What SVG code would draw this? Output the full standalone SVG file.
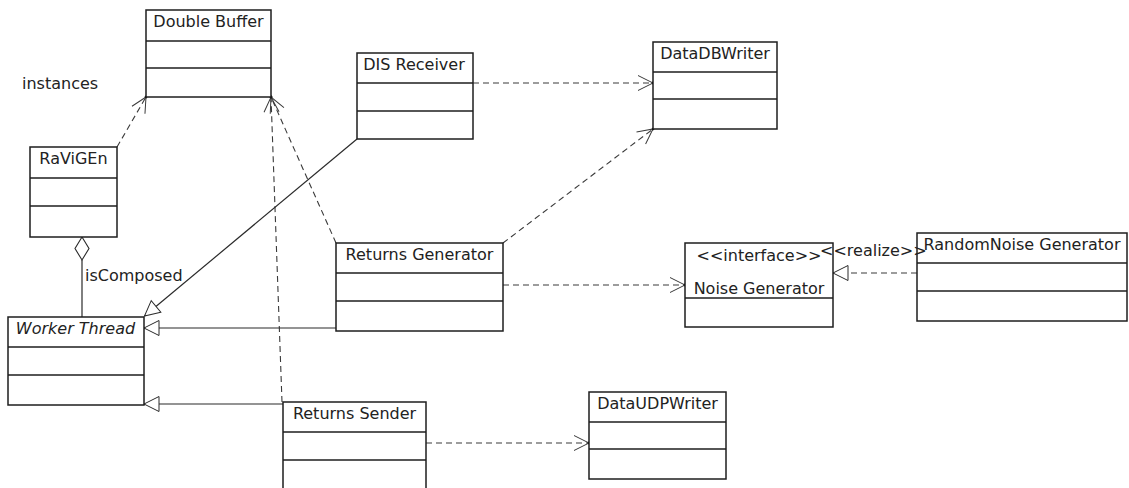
<svg xmlns="http://www.w3.org/2000/svg" width="1129" height="488" viewBox="0 0 1129 488">
  <style>
    .box { fill: #ffffff; stroke: #1e1e1e; stroke-width: 1.5; }
    .div { stroke: #1e1e1e; stroke-width: 1.4; }
    .name { font-family: "DejaVu Sans", "Liberation Sans", sans-serif; font-size: 16px; fill: #222222; text-anchor: middle; }
    .label { font-family: "DejaVu Sans", "Liberation Sans", sans-serif; font-size: 16px; fill: #222222; }
    .dep { fill: none; stroke: #3a3a3a; stroke-width: 1.1; stroke-dasharray: 6 4; }
    .gen { fill: none; stroke: #2a2a2a; stroke-width: 1.2; }
  </style>
  <defs>
    <!-- open arrowhead for dependencies -->
    <marker id="open" viewBox="0 0 18 18" refX="16" refY="9" markerWidth="18" markerHeight="18" markerUnits="userSpaceOnUse" orient="auto">
      <path d="M1,1.5 L16,9 L1,16.5" fill="none" stroke="#3a3a3a" stroke-width="1" stroke-dasharray="none"/>
      <circle cx="16" cy="9" r="1.4" fill="#111"/>
    </marker>
    <!-- hollow triangle for generalization / realization -->
    <marker id="tri" viewBox="0 0 18 18" refX="16.5" refY="9" markerWidth="18" markerHeight="18" markerUnits="userSpaceOnUse" orient="auto">
      <path d="M1.5,1.5 L16.5,9 L1.5,16.5 Z" fill="#ffffff" stroke="#2a2a2a" stroke-width="1" stroke-dasharray="none"/>
    </marker>
  </defs>

  <g id="connectors">
    <path class="dep" d="M117,147 L146,97" marker-end="url(#open)"/>
    <path class="dep" d="M336,243 L271,97" marker-end="url(#open)"/>
    <path class="dep" d="M282,402 L271,97" marker-end="url(#open)"/>
    <path class="dep" d="M473,83 L653,83" marker-end="url(#open)"/>
    <path class="dep" d="M503,243 L653,129" marker-end="url(#open)"/>
    <path class="dep" d="M503,285 L685,285" marker-end="url(#open)"/>
    <path class="dep" d="M426,443 L589,443" marker-end="url(#open)"/>
    <path class="dep" d="M917,273 L833,273" marker-end="url(#tri)"/>
    <path class="gen" stroke-width="0.9" d="M357,139 L144.5,316" marker-end="url(#tri)"/>
    <path class="gen" d="M336,328 L144,328" marker-end="url(#tri)"/>
    <path class="gen" d="M283,404 L144,404" marker-end="url(#tri)"/>
    <!-- aggregation RaViGEn <>— Worker Thread -->
    <path class="gen" d="M82,260 L82,317"/>
    <path d="M82,237 L89,248.5 L82,260 L75,248.5 Z" fill="#ffffff" stroke="#2a2a2a" stroke-width="1.1"/>
  </g>

  <g id="double-buffer">
    <rect class="box" x="146" y="10" width="125" height="87"/>
    <line class="div" x1="146" y1="41" x2="271" y2="41"/>
    <line class="div" x1="146" y1="68" x2="271" y2="68"/>
    <text class="name" x="208.5" y="27">Double Buffer</text>
  </g>

  <g id="ravigen">
    <rect class="box" x="30" y="147" width="87" height="90"/>
    <line class="div" x1="30" y1="178" x2="117" y2="178"/>
    <line class="div" x1="30" y1="206" x2="117" y2="206"/>
    <text class="name" x="73.5" y="164">RaViGEn</text>
  </g>

  <g id="worker-thread">
    <rect class="box" x="8" y="317" width="136" height="88"/>
    <line class="div" x1="8" y1="347" x2="144" y2="347"/>
    <line class="div" x1="8" y1="375" x2="144" y2="375"/>
    <text class="name" x="75.5" y="333.5" font-style="italic">Worker Thread</text>
  </g>

  <g id="dis-receiver">
    <rect class="box" x="357" y="53" width="116" height="86"/>
    <line class="div" x1="357" y1="83" x2="473" y2="83"/>
    <line class="div" x1="357" y1="111" x2="473" y2="111"/>
    <text class="name" x="414" y="70">DIS Receiver</text>
  </g>

  <g id="data-db-writer">
    <rect class="box" x="653" y="42" width="124" height="87"/>
    <line class="div" x1="653" y1="72" x2="777" y2="72"/>
    <line class="div" x1="653" y1="99" x2="777" y2="99"/>
    <text class="name" x="715" y="58.5">DataDBWriter</text>
  </g>

  <g id="returns-generator">
    <rect class="box" x="336" y="243" width="167" height="88"/>
    <line class="div" x1="336" y1="273" x2="503" y2="273"/>
    <line class="div" x1="336" y1="301" x2="503" y2="301"/>
    <text class="name" x="419.5" y="260">Returns Generator</text>
  </g>

  <g id="noise-generator">
    <rect class="box" x="685" y="243" width="148" height="84"/>
    <line class="div" x1="685" y1="298" x2="833" y2="298"/>
    <text class="name" x="759" y="261">&lt;&lt;interface&gt;&gt;</text>
    <text class="name" x="759" y="294">Noise Generator</text>
  </g>

  <g id="random-noise-generator">
    <rect class="box" x="917" y="233" width="210" height="88"/>
    <line class="div" x1="917" y1="263" x2="1127" y2="263"/>
    <line class="div" x1="917" y1="291" x2="1127" y2="291"/>
    <text class="name" x="1022" y="250">RandomNoise Generator</text>
  </g>

  <g id="returns-sender">
    <rect class="box" x="283" y="402" width="143" height="95"/>
    <line class="div" x1="283" y1="432" x2="426" y2="432"/>
    <line class="div" x1="283" y1="460" x2="426" y2="460"/>
    <text class="name" x="354.5" y="418.5">Returns Sender</text>
  </g>

  <g id="data-udp-writer">
    <rect class="box" x="589" y="392" width="137" height="87"/>
    <line class="div" x1="589" y1="422" x2="726" y2="422"/>
    <line class="div" x1="589" y1="449" x2="726" y2="449"/>
    <text class="name" x="657.5" y="408.5">DataUDPWriter</text>
  </g>

  <!-- connector labels, drawn over the class boxes -->
  <g id="connector-labels">
    <text class="label" x="85" y="281">isComposed</text>
    <text class="label" x="22" y="89">instances</text>
    <text class="label" x="820" y="256">&lt;&lt;realize&gt;&gt;</text>
  </g>
</svg>
